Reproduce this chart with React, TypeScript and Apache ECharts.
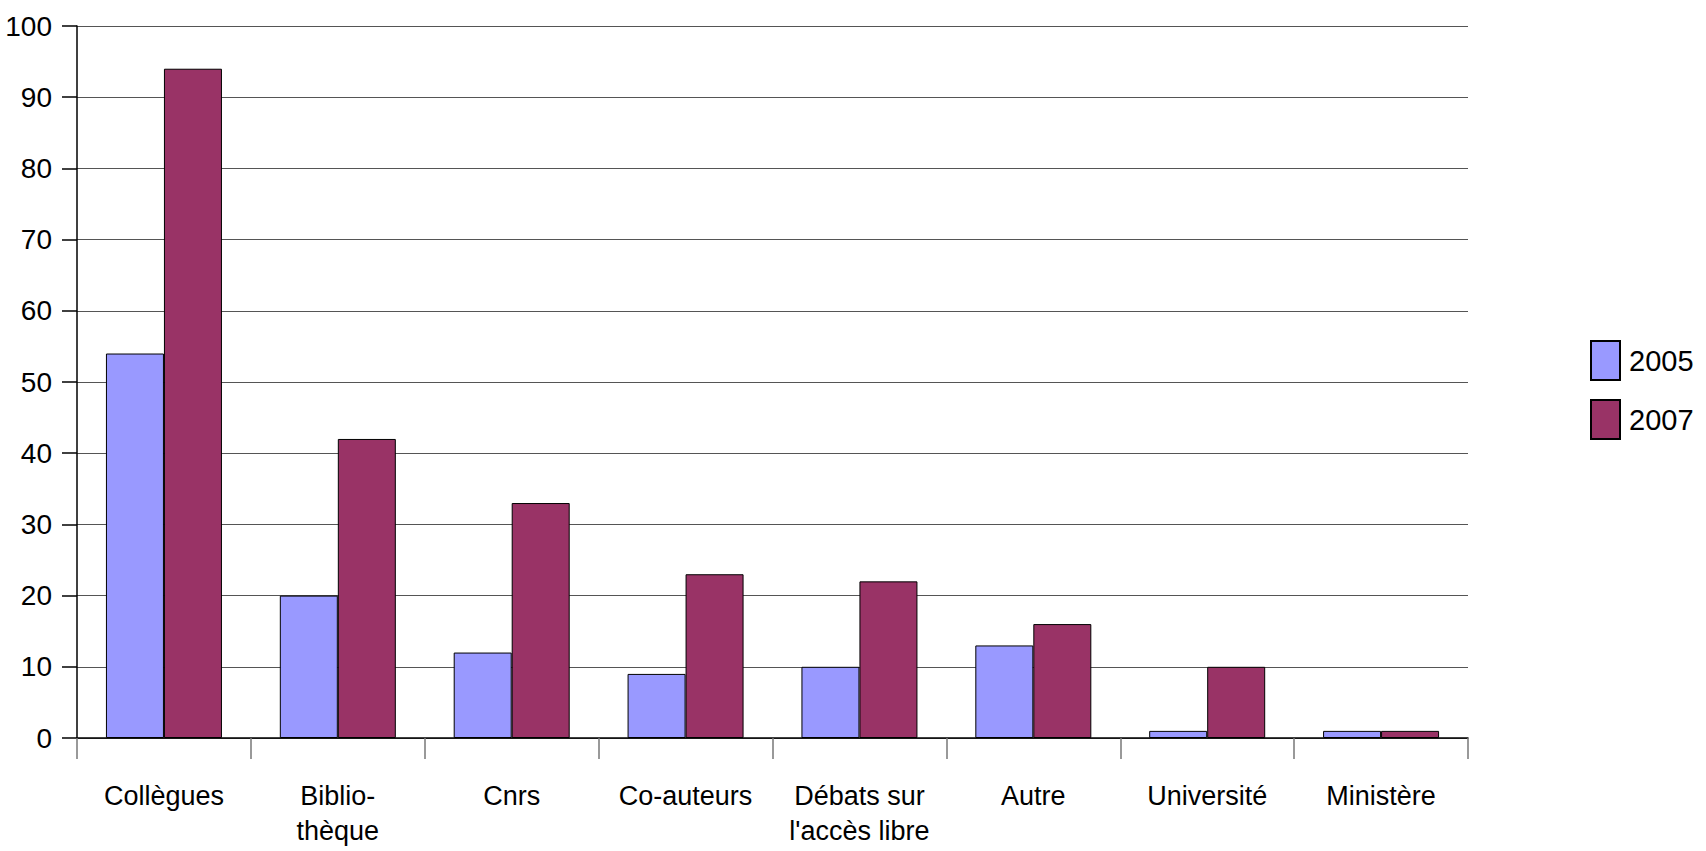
import React, { useEffect, useRef } from "react";
import * as echarts from "echarts";

const categories = [
  "Collègues",
  "Biblio-\nthèque",
  "Cnrs",
  "Co-auteurs",
  "Débats sur\nl'accès libre",
  "Autre",
  "Université",
  "Ministère",
];
const values2005 = [54, 20, 12, 9, 10, 13, 1, 1];
const values2007 = [94, 42, 33, 23, 22, 16, 10, 1];
const seriesNames = ["2005", "2007"];

const FONT = "'Liberation Sans', Arial, sans-serif";

export default function App() {
  const ref = useRef<HTMLDivElement>(null);
  useEffect(() => {
    if (!ref.current) return;
    const chart = echarts.init(ref.current, undefined, { renderer: "svg" });
    chart.setOption({
      animation: false,
      backgroundColor: "#ffffff",
      textStyle: { fontFamily: FONT },
      grid: { left: 77, right: 238, top: 26, bottom: 113, containLabel: false },
      legend: {
        orient: "vertical",
        left: 1590,
        top: 340,
        padding: 0,
        itemWidth: 29,
        itemHeight: 39,
        itemGap: 18,
        icon: "rect",
        textStyle: { fontFamily: FONT, fontSize: 29, color: "#000", padding: [0, 0, 0, 4] },
        data: seriesNames,
      },
      xAxis: {
        type: "category",
        data: categories,
        axisLine: { lineStyle: { color: "#000", width: 1.5 } },
        axisTick: { show: true, length: 21, lineStyle: { color: "#777", width: 1.5 } },
        axisLabel: {
          interval: 0,
          fontFamily: FONT,
          fontSize: 27,
          lineHeight: 35,
          color: "#000",
          margin: 40,
        },
      },
      yAxis: {
        type: "value",
        min: 0,
        max: 100,
        interval: 10,
        axisLine: { show: true, lineStyle: { color: "#000", width: 1.5 } },
        axisTick: { show: true, length: 15, lineStyle: { color: "#000", width: 1.5 } },
        splitLine: { show: true, lineStyle: { color: "#555", width: 1.2 } },
        axisLabel: { fontFamily: FONT, fontSize: 28, color: "#000", margin: 25 },
      },
      series: [
        {
          name: seriesNames[0],
          type: "bar",
          data: values2005,
          barWidth: 58,
          barGap: "0%",
          itemStyle: { color: "#9999ff", borderColor: "#000", borderWidth: 1 },
        },
        {
          name: seriesNames[1],
          type: "bar",
          data: values2007,
          barWidth: 58,
          barGap: "0%",
          itemStyle: { color: "#993366", borderColor: "#000", borderWidth: 1 },
        },
      ],
    });
    return () => chart.dispose();
  }, []);
  return (
    <div
      ref={ref}
      style={{ position: "fixed", left: 0, top: 0, width: 1706, height: 851 }}
    />
  );
}
